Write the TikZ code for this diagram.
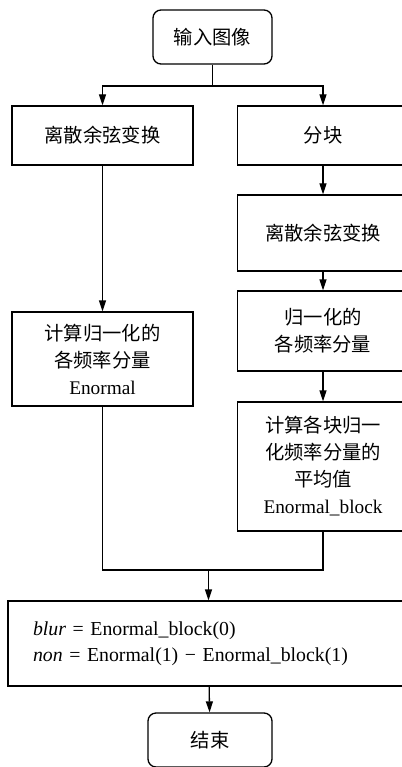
\documentclass[tikz,border=0pt]{standalone}
\usepackage{fontspec}
\setmainfont{Liberation Serif}
\newfontfamily\cjk{Noto Sans CJK SC}
\usetikzlibrary{arrows.meta}
\tikzset{
  stepbox/.style={draw, rectangle, align=center, inner sep=0pt,
    font=\cjk\fontsize{19.3}{27}\selectfont},
  termbox/.style={stepbox, rounded corners=8pt},
}
\begin{document}
\begin{tikzpicture}[x=1pt, y=-1pt, line width=1.3pt,
    >={Triangle[length=11pt,width=7pt]}]
  \useasboundingbox (0,0) rectangle (401,767);
  % start and the two branches
  \node [termbox, minimum width=119pt, minimum height=54pt] (start) at (212.5,37) {输入图像};
  \node [stepbox, minimum width=181pt, minimum height=59pt] (dctA) at (102.5,135.5) {离散余弦变换};
  \node [stepbox, minimum width=171pt, minimum height=59pt] (blk) at (323,135.5) {分块};
  \node [stepbox, minimum width=171pt, minimum height=76pt] (dctB) at (323,233) {离散余弦变换};
  \node [stepbox, minimum width=181pt, minimum height=94pt] (normA) at (102.5,359)
        {计算归一化的\\各频率分量\\{\normalfont Enormal}};
  \node [stepbox, minimum width=171pt, minimum height=80pt] (normB) at (323,331)
        {归一化的\\各频率分量};
  \node [stepbox, minimum width=171pt, minimum height=129pt] (avgB) at (323,466.5)
        {计算各块归一\\化频率分量的\\平均值\\{\normalfont Enormal\_block}};
  % result and end
  \node [draw, rectangle, align=left, text width=351pt, inner xsep=25pt, inner ysep=0pt,
         minimum height=85pt, font=\normalfont\fontsize{19.8}{26}\selectfont] (result) at (208.5,643.5)
        {\textit{blur} = Enormal\_block(0)\\\textit{non} = Enormal(1) − Enormal\_block(1)};
  \node [termbox, minimum width=124pt, minimum height=54pt] (endn) at (210,740) {结束};
  \coordinate (fork) at (212.5,86);
  \coordinate (join) at (208.5,570);
  \draw (start.south) -- (fork);
  \draw [->] (fork) -| (dctA.north);
  \draw [->] (fork) -| (blk.north);
  \draw [->] (blk) -- (dctB);
  \draw [->] (dctB) -- (normB);
  \draw [->] (normB) -- (avgB);
  \draw [->] (dctA) -- (normA);
  \draw (normA.south) |- (join);
  \draw (avgB.south) |- (join);
  \draw [->] (join) -- (result.north);
  \draw [->] (result) -- (endn);
\end{tikzpicture}
\end{document}
